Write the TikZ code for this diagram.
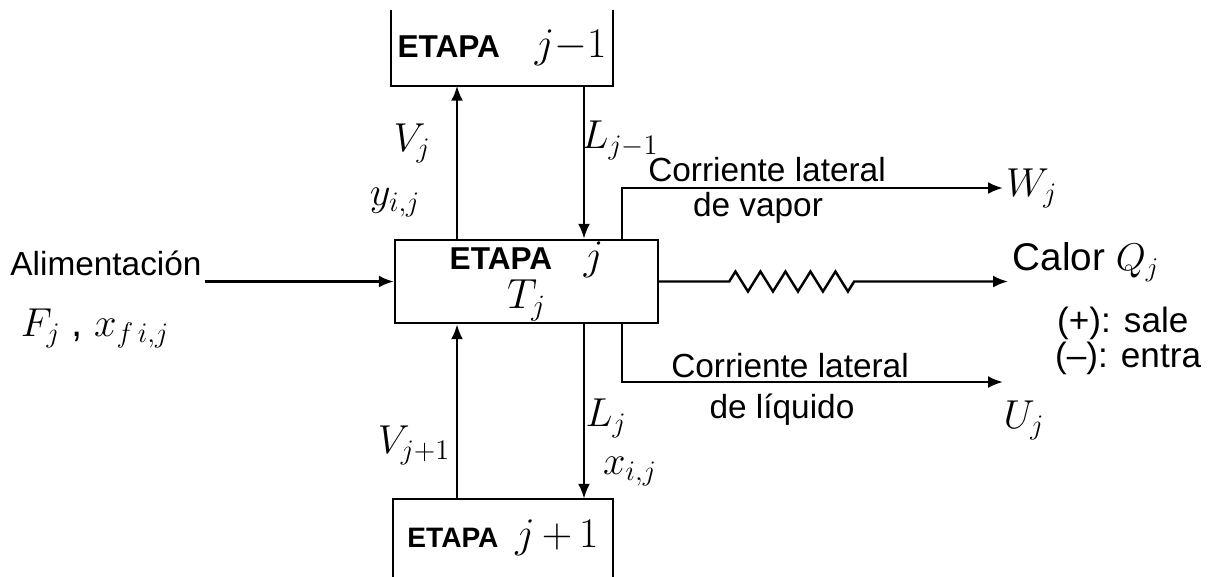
\RequirePackage{fix-cm}
\documentclass[tikz,border=0pt]{standalone}
\usepackage{fontspec}
\setmainfont{Liberation Sans}
\usetikzlibrary{positioning,arrows.meta,calc,decorations.pathmorphing}
\newcommand{\stgsym}[1]{{\fontsize{24}{24}\selectfont$#1$}}

\begin{document}
\begin{tikzpicture}[
		x=0.02cm, y=-0.02cm,
		font=\fontsize{19}{22}\selectfont,
		line width=1.4pt,
		stage/.style={inner sep=0pt, align=center,
				font=\fontsize{18}{20}\selectfont\bfseries},
		lbl/.style={inner sep=1pt, align=left},
		sym/.style={inner sep=1pt, font=\fontsize{23}{27}\selectfont},
		arr/.style={-{Latex[length=3mm, width=2.4mm]}},
		coil/.style={decorate, decoration={zigzag, segment length=5mm,
				amplitude=2mm}}
		]
		\useasboundingbox (0,0) rectangle (1223,576);
		\node[stage, text width=4.4cm, minimum height=1.46cm] (top)
		at (502,48) {\makebox[0pt]{ETAPA\hspace{1.1em}\stgsym{j{-}1}}};
		\node[stage, draw, text width=5.26cm, minimum height=1.66cm] (mid)
		at (526.5,281.5) {\makebox[0pt]{ETAPA\hspace{1em}\stgsym{j}}\\
			\stgsym{T_j}};
		\node[stage, text width=4.36cm, minimum height=1.52cm,
			font=\fontsize{16}{20}\selectfont\bfseries] (bot)
		at (503,538) {\makebox[0pt]{ETAPA\hspace{0.6em}\stgsym{j\,{+}\,1}}};
		\draw (top.north west) -- (top.south west) -- (top.south east)
		-- (top.north east);
		\draw (bot.south west) -- (bot.north west) -- (bot.north east)
		-- (bot.south east);
		\coordinate (vcol) at (457,0);
		\coordinate (lcol) at (584,0);
		\coordinate (scol) at (622,0);
		% main streams between stages
		\draw[arr] (vcol |- mid.north) -- (vcol |- top.south);
		\draw[arr] (lcol |- top.south) -- (lcol |- mid.north);
		\draw[arr] (vcol |- bot.north) -- (vcol |- mid.south);
		\draw[arr] (lcol |- mid.south) -- (lcol |- bot.north);
		\node[sym] (vj) at (412,143) {$V_j$};
		\node[sym] (yij) at (395,203) {$y_{i,j}$};
		\node[sym] (ljm) at (620,140) {$L_{j-1}$};
		\node[sym] (vjp) at (414,445) {$V_{j+1}$};
		\node[sym] (lj) at (606,418) {$L_j$};
		\node[sym] (xij) at (630,472) {$x_{i,j}$};
		% feed
		\node[lbl] (feed) at (106,263) {Alimentación};
		\node[sym] (fx) at (95,328) {$F_j$ , $x_{f\,i,j}$};
		\draw[arr] (feed.east |- mid.west) -- (mid.west);
		% side streams and heat
		\node[sym, right] (wj) at (1003,188) {$W_j$};
		\draw[arr] (scol |- mid.north) |- (wj.west);
		\node[lbl] (vapa) at (767,170) {Corriente lateral};
		\node[lbl] (vapb) at (758,208) {de vapor};
		\node[right, inner sep=2pt, font=\fontsize{22}{26}\selectfont] (calor)
		at (1008,262) {Calor $Q_j$};
		\draw[arr] (mid.east) -- ++(70,0) decorate[coil]{-- ++(136,0)}
		-- (calor.west |- mid.east);
		\node[right, inner sep=0pt, font=\fontsize{20}{24}\selectfont] (sale)
		at (1056,323) {(+): sale};
		\node[right, inner sep=0pt, font=\fontsize{20}{24}\selectfont] (entra)
		at (1054,358) {(--): entra};
		\coordinate (uend) at (1003,382);
		\draw[arr] (scol |- mid.south) |- (uend);
		\node[sym] (uj) at (1024,420) {$U_j$};
		\node[lbl] (liqa) at (790,366) {Corriente lateral};
		\node[lbl] (liqb) at (782,410) {de líquido};
	\end{tikzpicture}
\end{document}
